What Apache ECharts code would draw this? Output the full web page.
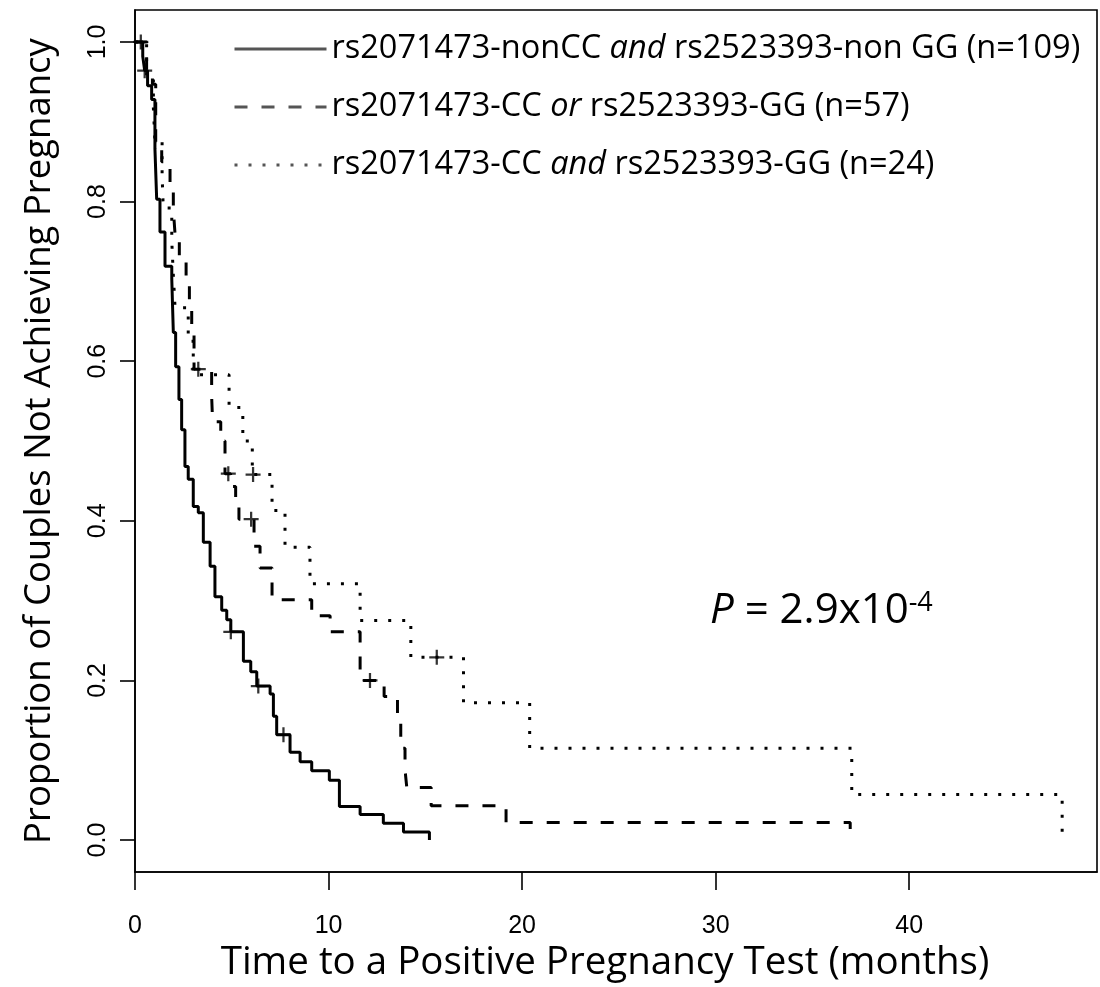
<!DOCTYPE html>
<html>
<head>
<meta charset="utf-8">
<script src="https://cdn.jsdelivr.net/npm/echarts@6/dist/echarts.min.js"></script>
<style>
  html, body { margin: 0; background: #fff; }
  #chart { width: 1100px; height: 987px; }
</style>
</head>
<body>
<div id="chart"></div>
<script>
// Kaplan-Meier curves: [months, proportion]
const solidCurve = [
  [0, 1.0], [0.4, 0.982], [0.5, 0.964], [0.65, 0.945], [0.86, 0.928], [1.03, 0.866],
  [1.12, 0.803], [1.29, 0.762], [1.55, 0.719], [1.9, 0.703], [1.98, 0.636], [2.1, 0.593],
  [2.27, 0.552], [2.41, 0.514], [2.58, 0.468], [2.75, 0.452], [3.01, 0.418], [3.27, 0.41],
  [3.53, 0.373], [3.88, 0.343], [4.13, 0.305], [4.48, 0.288], [4.74, 0.276], [4.95, 0.261],
  [5.6, 0.224], [5.98, 0.211], [6.29, 0.193], [6.98, 0.183], [7.15, 0.155], [7.32, 0.132],
  [8.01, 0.11], [8.53, 0.098], [9.13, 0.087], [10.04, 0.075], [10.56, 0.042], [11.63, 0.032],
  [12.83, 0.021], [13.87, 0.01], [15.21, 0]
]
const dashedCurve = [
  [0, 1.0], [0.6, 0.965], [0.9, 0.947], [1.07, 0.875], [1.38, 0.85], [1.81, 0.82],
  [1.98, 0.79], [2.07, 0.759], [2.29, 0.728], [2.64, 0.7], [2.81, 0.67], [2.93, 0.64],
  [3.05, 0.59], [3.96, 0.556], [4.01, 0.524], [4.43, 0.5], [4.65, 0.459], [4.94, 0.443],
  [5.2, 0.427], [5.37, 0.402], [6.15, 0.368], [6.46, 0.341], [7.08, 0.301], [9.13, 0.281],
  [10.08, 0.261], [11.63, 0.2], [12.87, 0.18], [13.56, 0.147], [13.73, 0.115], [13.95, 0.088],
  [14.04, 0.066], [15.3, 0.043], [19.17, 0.022], [36.95, 0]
]
const dottedCurve = [
  [0, 1.0], [0.6, 0.958], [0.95, 0.917], [1.03, 0.875], [1.4, 0.833], [1.46, 0.792],
  [1.9, 0.75], [1.98, 0.708], [2.07, 0.667], [2.75, 0.625], [3.01, 0.583], [4.86, 0.542],
  [5.57, 0.5], [6.06, 0.458], [7.08, 0.413], [7.75, 0.367], [9.04, 0.321], [11.63, 0.275],
  [14.25, 0.229], [16.97, 0.172], [20.39, 0.115], [37.03, 0.057], [47.9, 0]
]
// censored observations (+ marks)
const solidCensored = [[0.3, 1.0], [0.5, 0.964], [4.95, 0.261], [6.37, 0.193], [7.67, 0.132]]
const dashedCensored = [[3.27, 0.59], [4.82, 0.459], [6.0, 0.402], [12.14, 0.2]]
const dottedCensored = [[6.1, 0.458], [15.59, 0.229]]

const groupNames = [
  'rs2071473-nonCC and rs2523393-non GG (n=109)',
  'rs2071473-CC or rs2523393-GG (n=57)',
  'rs2071473-CC and rs2523393-GG (n=24)'
]
const yTicks = [0, 0.2, 0.4, 0.6, 0.8, 1.0]

const chart = echarts.init(document.getElementById('chart'))

const plus = 'path://M8.5,0H11.5V8.5H20V11.5H11.5V20H8.5V11.5H0V8.5H8.5Z'
const censorSeries = (data) => ({
  type: 'scatter',
  data,
  symbol: plus,
  symbolSize: 15,
  itemStyle: { color: '#000' },
  z: 5,
  silent: true
})
const curveSeries = (name, data, type) => ({
  name,
  type: 'line',
  step: 'end',
  data,
  symbol: 'none',
  color: '#000',
  lineStyle: { color: '#000', width: 3, type, cap: 'butt' },
  silent: true
})

chart.setOption({
  animation: false,
  grid: {
    left: 135, right: 3, top: 10, bottom: 115,
    outerBoundsMode: 'none',
    show: true, borderColor: '#000', borderWidth: 1.6
  },
  legend: {
    orient: 'vertical',
    left: 228,
    top: 27,
    itemWidth: 92,
    itemHeight: 20,
    itemGap: 24,
    selectedMode: false,
    data: groupNames,
    itemStyle: { opacity: 0 },
    lineStyle: { color: '#555', width: 3 },
    formatter: (name) => name.replace(' and ', ' {i|and} ').replace(' or ', ' {i|or} '),
    textStyle: {
      fontFamily: 'Open Sans',
      fontSize: 32.5,
      lineHeight: 34,
      color: '#000',
      rich: {
        i: { fontFamily: 'Open Sans', fontStyle: 'italic', fontSize: 32.5, lineHeight: 34, color: '#000' }
      }
    }
  },
  xAxis: {
    type: 'value',
    min: 0,
    max: 49.7,
    interval: 10,
    name: 'Time to a Positive Pregnancy Test (months)',
    nameLocation: 'middle',
    nameGap: 69,
    nameTextStyle: { fontFamily: 'Open Sans', fontSize: 38.5, color: '#000', padding: [0, 22, 0, 0] },
    axisLine: { show: true, onZero: false, lineStyle: { color: '#000', width: 1.6 } },
    axisTick: { show: true, length: 18, lineStyle: { color: '#000', width: 1.6 } },
    axisLabel: { fontFamily: 'Liberation Sans', fontSize: 25, color: '#000', margin: 42, showMaxLabel: false },
    splitLine: { show: false }
  },
  yAxis: {
    type: 'value',
    min: -0.04,
    max: 1.04,
    name: 'Proportion of Couples Not Achieving Pregnancy',
    nameLocation: 'middle',
    nameGap: 77,
    nameTextStyle: { fontFamily: 'Open Sans', fontSize: 36.5, color: '#000' },
    axisLine: { show: true, onZero: false, lineStyle: { color: '#000', width: 1.6 } },
    axisTick: { show: true, length: 15, customValues: yTicks, lineStyle: { color: '#000', width: 1.6 } },
    axisLabel: {
      customValues: yTicks,
      rotate: 90,
      margin: 24,
      fontFamily: 'Liberation Sans',
      fontSize: 25,
      color: '#000',
      formatter: (v) => v.toFixed(1)
    },
    splitLine: { show: false }
  },
  graphic: [{
    type: 'text',
    left: 710,
    top: 590,
    style: {
      text: '{i|P} = 2.9x10{s|-4}',
      fontFamily: 'Open Sans',
      fontSize: 42,
      fill: '#000',
      rich: {
        i: { fontFamily: 'Open Sans', fontStyle: 'italic', fontSize: 42 },
        s: { fontFamily: 'Open Sans', fontSize: 27, verticalAlign: 'top' }
      }
    }
  }],
  series: [
    curveSeries(groupNames[0], solidCurve, 'solid'),
    curveSeries(groupNames[1], dashedCurve, [13, 14]),
    curveSeries(groupNames[2], dottedCurve, [3, 11]),
    censorSeries(solidCensored),
    censorSeries(dashedCensored),
    censorSeries(dottedCensored)
  ]
})
</script>
</body>
</html>
